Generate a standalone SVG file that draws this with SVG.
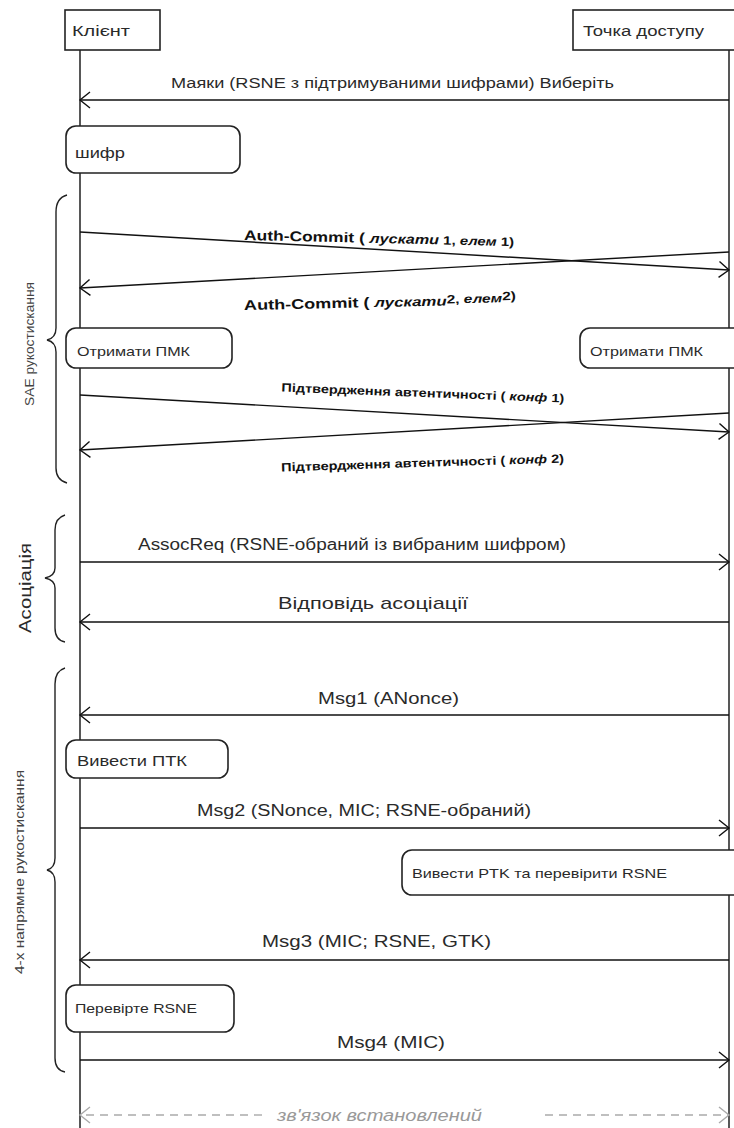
<svg xmlns="http://www.w3.org/2000/svg" width="734" height="1128" viewBox="0 0 734 1128">
  <defs>
    <marker id="open" viewBox="-12 -10 14 20" refX="0" refY="0" markerWidth="14" markerHeight="20" markerUnits="userSpaceOnUse" orient="auto">
      <path d="M-10,-8 L0,0 L-10,8" fill="none" stroke="#111" stroke-width="1.4"/>
    </marker>
    <marker id="openGray" viewBox="-12 -10 14 20" refX="0" refY="0" markerWidth="14" markerHeight="20" markerUnits="userSpaceOnUse" orient="auto">
      <path d="M-10,-8 L0,0 L-10,8" fill="none" stroke="#aaa" stroke-width="1.4"/>
    </marker>
  </defs>
  <style>
    .bg { fill: #ffffff; }
    .box { fill: #ffffff; stroke: #222; stroke-width: 1.6; }
    .life { stroke: #111; stroke-width: 1.4; fill: none; }
    .msg { stroke: #111; stroke-width: 1.4; fill: none; marker-end: url(#open); }
    .dash { stroke: #aaa; stroke-width: 1.4; stroke-dasharray: 8 6; fill: none; marker-end: url(#openGray); }
    .brace { stroke: #222; stroke-width: 1.4; fill: none; }
    text { font-family: "Liberation Sans", Arial, sans-serif; fill: #2a2a2a; }
    .t14 { font-size: 14px; }
    .t13 { font-size: 13px; }
    .t16 { font-size: 16px; }
    .t17 { font-size: 17px; }
    .vert { font-size: 13px; fill: #444; }
    .auth { font-size: 14px; font-weight: bold; fill: #111; }
    .conf { font-size: 12px; font-weight: bold; fill: #111; }
    .note { font-size: 16px; font-style: italic; fill: #999; }
  </style>

  <rect class="bg" x="0" y="0" width="734" height="1128"/>

  <!-- lifelines -->
  <g id="lifelines">
    <line class="life" x1="80" y1="50" x2="80" y2="1128"/>
    <line class="life" x1="729" y1="50" x2="729" y2="1128"/>
  </g>

  <!-- participants -->
  <g id="client">
    <rect class="box" x="65" y="10" width="95" height="40"/>
    <text class="t14" x="72" y="36" textLength="58" lengthAdjust="spacingAndGlyphs">Клієнт</text>
  </g>
  <g id="access-point">
    <rect class="box" x="573" y="10" width="170" height="40"/>
    <text class="t14" x="583" y="36" textLength="121" lengthAdjust="spacingAndGlyphs">Точка доступу</text>
  </g>

  <!-- activity boxes -->
  <g id="cipher">
    <rect class="box" x="66" y="126" width="174" height="47" rx="10"/>
    <text class="t14" x="75" y="158" textLength="50" lengthAdjust="spacingAndGlyphs">шифр</text>
  </g>
  <g id="pmk-client">
    <rect class="box" x="66" y="328" width="166" height="40" rx="10"/>
    <text class="t13" x="77" y="356" textLength="113" lengthAdjust="spacingAndGlyphs">Отримати ПМК</text>
  </g>
  <g id="pmk-ap">
    <rect class="box" x="580" y="328" width="170" height="40" rx="10"/>
    <text class="t13" x="590" y="356" textLength="113" lengthAdjust="spacingAndGlyphs">Отримати ПМК</text>
  </g>
  <g id="ptk-client">
    <rect class="box" x="66" y="740" width="162" height="38" rx="10"/>
    <text class="t14" x="77" y="766" textLength="110" lengthAdjust="spacingAndGlyphs">Вивести ПТК</text>
  </g>
  <g id="ptk-ap">
    <rect class="box" x="402" y="850" width="345" height="45" rx="10"/>
    <text class="t13" x="412" y="878" textLength="255" lengthAdjust="spacingAndGlyphs">Вивести PTK та перевірити RSNE</text>
  </g>
  <g id="check-rsne">
    <rect class="box" x="66" y="985" width="168" height="47" rx="10"/>
    <text class="t13" x="75" y="1013" textLength="122" lengthAdjust="spacingAndGlyphs">Перевірте RSNE</text>
  </g>

  <!-- phase braces and their labels -->
  <g id="phase-sae">
    <path class="brace" d="M67,195 Q56,198 56,212 L56,328 Q56,338 47,340 Q56,342 56,352 L56,468 Q56,480 67,483"/>
    <text class="vert" transform="translate(34,344) rotate(-90)" text-anchor="middle" textLength="124" lengthAdjust="spacingAndGlyphs">SAE рукостискання</text>
  </g>
  <g id="phase-assoc">
    <path class="brace" d="M65,515 Q55,518 55,530 L55,568 Q55,576 45,578 Q55,580 55,588 L55,628 Q55,640 65,642"/>
    <text class="t17" transform="translate(31,588) rotate(-90)" text-anchor="middle" textLength="90" lengthAdjust="spacingAndGlyphs">Асоціація</text>
  </g>
  <g id="phase-4way">
    <path class="brace" d="M65,668 Q55,671 55,684 L55,858 Q55,868 47,870 Q55,872 55,882 L55,1058 Q55,1070 65,1072"/>
    <text class="vert" transform="translate(24,872) rotate(-90)" text-anchor="middle" textLength="204" lengthAdjust="spacingAndGlyphs">4-х напрямне рукостискання</text>
  </g>

  <!-- message connectors -->
  <g id="connectors">
    <line class="msg" x1="729" y1="100" x2="80" y2="100"/>
    <line class="msg" x1="80" y1="232" x2="729" y2="270"/>
    <line class="msg" x1="729" y1="252" x2="80" y2="288"/>
    <line class="msg" x1="80" y1="395" x2="729" y2="432"/>
    <line class="msg" x1="729" y1="413" x2="80" y2="450"/>
    <line class="msg" x1="80" y1="562" x2="729" y2="562"/>
    <line class="msg" x1="729" y1="622" x2="80" y2="622"/>
    <line class="msg" x1="729" y1="715" x2="80" y2="715"/>
    <line class="msg" x1="80" y1="828" x2="729" y2="828"/>
    <line class="msg" x1="729" y1="960" x2="80" y2="960"/>
    <line class="msg" x1="80" y1="1060" x2="729" y2="1060"/>
    <line class="dash" x1="262" y1="1115" x2="80" y2="1115"/>
    <line class="dash" x1="545" y1="1115" x2="729" y2="1115"/>
  </g>

  <!-- message labels -->
  <g id="labels">
    <text class="t14" x="171" y="88" textLength="443" lengthAdjust="spacingAndGlyphs">Маяки (RSNE з підтримуваними шифрами) Виберіть</text>

    <g transform="rotate(1.3 380 244)">
      <text class="auth" x="244" y="243" textLength="270" lengthAdjust="spacingAndGlyphs">Auth-Commit ( <tspan font-style="italic" font-size="13">лускати</tspan><tspan font-size="12"> 1, </tspan><tspan font-style="italic" font-size="12">елем</tspan><tspan font-size="12"> 1)</tspan></text>
    </g>
    <g transform="rotate(-1.3 380 305)">
      <text class="auth" x="244" y="307" textLength="272" lengthAdjust="spacingAndGlyphs">Auth-Commit ( <tspan font-style="italic" font-size="13">лускати</tspan><tspan font-size="12" dy="-2">2, </tspan><tspan font-style="italic" font-size="12">елем</tspan><tspan font-size="12" dy="-2">2)</tspan></text>
    </g>

    <g transform="rotate(2.2 422 402)">
      <text class="conf" x="281" y="397" textLength="283" lengthAdjust="spacingAndGlyphs">Підтвердження автентичності ( <tspan font-style="italic">конф</tspan> 1)</text>
    </g>
    <g transform="rotate(-1.8 422 462)">
      <text class="conf" x="281" y="467" textLength="283" lengthAdjust="spacingAndGlyphs">Підтвердження автентичності ( <tspan font-style="italic">конф</tspan> 2)</text>
    </g>

    <text class="t16" x="138" y="550" textLength="428" lengthAdjust="spacingAndGlyphs">AssocReq (RSNE-обраний із вибраним шифром)</text>
    <text class="t17" x="278" y="609" textLength="190" lengthAdjust="spacingAndGlyphs">Відповідь асоціації</text>
    <text class="t17" x="318" y="704" textLength="141" lengthAdjust="spacingAndGlyphs">Msg1 (ANonce)</text>
    <text class="t16" x="197" y="816" textLength="334" lengthAdjust="spacingAndGlyphs">Msg2 (SNonce, MIC; RSNE-обраний)</text>
    <text class="t17" x="262" y="947" textLength="229" lengthAdjust="spacingAndGlyphs">Msg3 (MIC; RSNE, GTK)</text>
    <text class="t17" x="337" y="1048" textLength="108" lengthAdjust="spacingAndGlyphs">Msg4 (MIC)</text>
    <text class="note" x="277" y="1121" textLength="205" lengthAdjust="spacingAndGlyphs">зв'язок встановлений</text>
  </g>
</svg>
